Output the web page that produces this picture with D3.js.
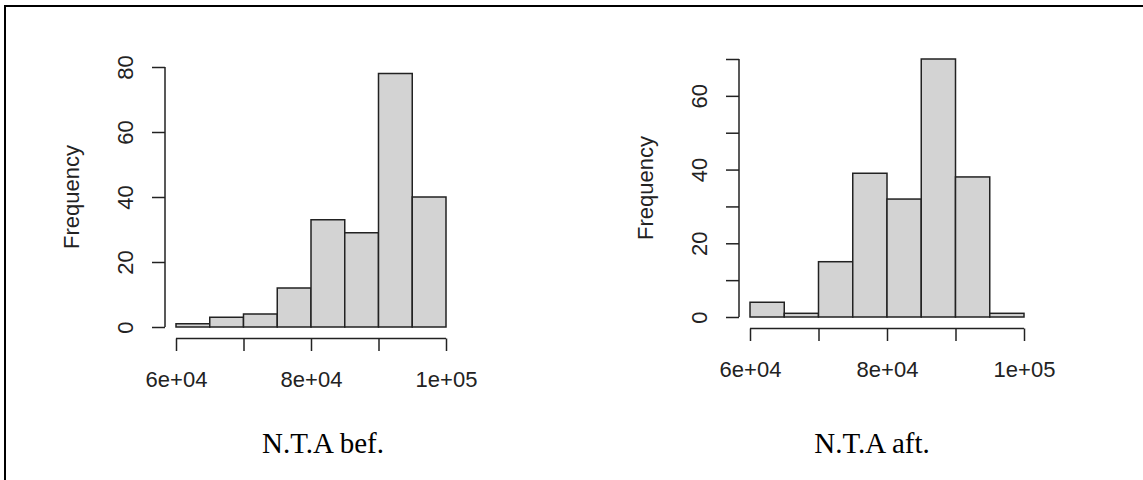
<!DOCTYPE html>
<html>
<head>
<meta charset="utf-8">
<script src="https://cdn.jsdelivr.net/npm/d3@7"></script>
<style>
  html, body { margin: 0; padding: 0; background: #fff; }
  svg { display: block; }
</style>
</head>
<body>
<svg width="1143" height="480"></svg>
<script>
// bin edges shared by both histograms
const binEdges = [60000, 65000, 70000, 75000, 80000, 85000, 90000, 95000, 100000];

const befCounts = [1, 3, 4, 12, 33, 29, 78, 40];
const aftCounts = [4, 1, 15, 39, 32, 70, 38, 1];

const xTicks = [60000, 70000, 80000, 90000, 100000];
const xTickLabels = ['6e+04', '', '8e+04', '', '1e+05'];

const befYTicks = [0, 20, 40, 60, 80];
const befYLabels = ['0', '20', '40', '60', '80'];
const aftYTicks = [0, 10, 20, 30, 40, 50, 60, 70];
const aftYLabels = ['0', '', '20', '', '40', '', '60', ''];

const titles = ['N.T.A bef.', 'N.T.A aft.'];

const svg = d3.select('svg');
const ink = '#222';
const sans = 'Liberation Sans, Arial, sans-serif';

// frame (only left + top edges are visible)
svg.append('path')
    .attr('d', 'M5,480 L5,6 L1143,6')
    .attr('fill', 'none')
    .attr('stroke', '#000')
    .attr('stroke-width', 2);

const panels = [
    { counts: befCounts, yTicks: befYTicks, yLabels: befYLabels, yMax: 80,
      xRange: [176, 446], yRange: [327, 67], title: titles[0], titleX: 323 },
    { counts: aftCounts, yTicks: aftYTicks, yLabels: aftYLabels, yMax: 70,
      xRange: [750, 1024], yRange: [317, 59], title: titles[1], titleX: 872 }
];

panels.forEach(p => {
    const x = d3.scaleLinear().domain([60000, 100000]).range(p.xRange);
    const y = d3.scaleLinear().domain([0, p.yMax]).range(p.yRange);
    const g = svg.append('g');

    const bins = p.counts.map((c, i) => ({ x0: binEdges[i], x1: binEdges[i + 1], n: c }));

    g.selectAll('rect')
        .data(bins)
        .enter().append('rect')
        .attr('x', d => x(d.x0))
        .attr('y', d => y(d.n))
        .attr('width', d => x(d.x1) - x(d.x0))
        .attr('height', d => y(0) - y(d.n))
        .attr('fill', '#d3d3d3')
        .attr('stroke', ink)
        .attr('stroke-width', 1.5);

    // x axis, offset below the plot
    const axisY = y(0) + 11.5;
    const gx = g.append('g')
        .attr('transform', `translate(0, ${axisY})`)
        .call(d3.axisBottom(x).tickValues(xTicks).tickSize(12.5)
            .tickSizeOuter(0).tickFormat((d, i) => xTickLabels[i]));
    gx.select('.domain').remove();
    gx.append('line')
        .attr('x1', x(60000)).attr('x2', x(100000))
        .attr('stroke', ink).attr('stroke-width', 1.5);
    gx.selectAll('.tick line').attr('stroke', ink).attr('stroke-width', 1.5);
    gx.selectAll('.tick text')
        .attr('y', 48).attr('dy', 0)
        .attr('fill', ink)
        .style('font-family', sans)
        .style('font-size', '22px');

    // y axis, offset left of the plot
    const axisX = p.xRange[0] - 11;
    const gy = g.append('g')
        .attr('transform', `translate(${axisX}, 0)`)
        .call(d3.axisLeft(y).tickValues(p.yTicks).tickSize(13)
            .tickSizeOuter(0).tickFormat((d, i) => p.yLabels[i]));
    gy.select('.domain').remove();
    gy.append('line')
        .attr('y1', y(0)).attr('y2', y(p.yMax))
        .attr('stroke', ink).attr('stroke-width', 1.5);
    gy.selectAll('.tick line').attr('stroke', ink).attr('stroke-width', 1.5);
    gy.selectAll('.tick text')
        .attr('x', 0).attr('dy', 0)
        .attr('text-anchor', 'middle')
        .attr('transform', 'translate(-32, 0) rotate(-90)')
        .attr('fill', ink)
        .style('font-family', sans)
        .style('font-size', '22px');

    g.append('text')
        .attr('transform', `translate(${axisX - 86}, ${(y(0) + y(p.yMax)) / 2}) rotate(-90)`)
        .attr('text-anchor', 'middle')
        .attr('fill', ink)
        .style('font-family', sans)
        .style('font-size', '22px')
        .text('Frequency');

    g.append('text')
        .attr('x', p.titleX)
        .attr('y', 453)
        .attr('text-anchor', 'middle')
        .attr('fill', '#000')
        .style('font-family', 'Liberation Serif, Times New Roman, serif')
        .style('font-size', '29px')
        .text(p.title);
});
</script>
</body>
</html>
